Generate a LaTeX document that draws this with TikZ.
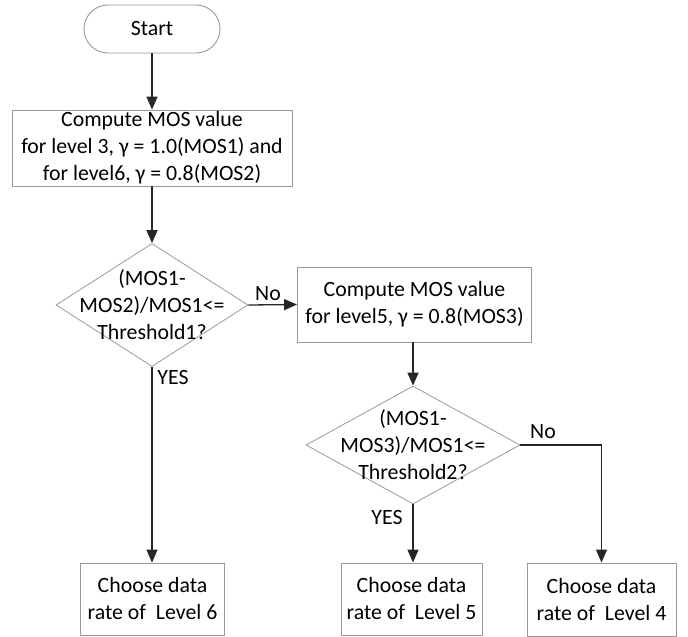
\documentclass[tikz,border=0pt]{standalone}
\usepackage{fontspec}
\setmainfont{Carlito}
\usetikzlibrary{shapes.geometric,shapes.misc,arrows.meta}
\begin{document}
\begin{tikzpicture}[x=1pt,y=-1pt,
  every node/.style={font=\fontsize{21.8}{27}\selectfont},
  boxshape/.style={draw=black!40, line width=0.9pt, rectangle, inner sep=0pt, align=center},
  termshape/.style={draw=black!40, line width=0.9pt, rounded rectangle, inner sep=0pt},
  diashape/.style={draw=black!40, line width=0.8pt, diamond, inner sep=0pt},
  conn/.style={draw=black!85, line width=1.3pt, -{Triangle[length=13pt,width=11pt]}},
  lbl/.style={inner sep=0pt}
]
\useasboundingbox (0,0) rectangle (688,637);
\node[termshape, minimum width=136pt, minimum height=48pt] (start) at (152,29) {Start};
\node[boxshape, minimum width=280pt, minimum height=76pt] (box1) at (152,148)
  {Compute MOS value\\for level 3, γ = 1.0(MOS1) and\\for level6, γ = 0.8(MOS2)};
\node[diashape, minimum width=192pt, minimum height=123pt] (d1) at (152,305) {};
\node[align=center, inner sep=0pt] (d1t) at (152,305) {(MOS1-\\MOS2)/MOS1<=\\Threshold1?};
\node[boxshape, minimum width=234pt, minimum height=75pt] (box2) at (414.5,304.5)
  {Compute MOS value\\for level5, γ = 0.8(MOS3)};
\node[diashape, minimum width=214pt, minimum height=118pt] (d2) at (413,445) {};
\node[align=center, inner sep=0pt] (d2t) at (413,445) {(MOS1-\\MOS3)/MOS1<=\\Threshold2?};
\node[boxshape, minimum width=144pt, minimum height=72pt] (box3) at (152.5,599)
  {Choose data\\rate of\ \ Level 6};
\node[boxshape, minimum width=141pt, minimum height=72pt] (box4) at (411.5,599)
  {Choose data\\rate of\ \ Level 5};
\node[boxshape, minimum width=149pt, minimum height=73pt] (box5) at (601.5,599.5)
  {Choose data\\rate of\ \ Level 4};
\node[lbl] (no1) at (268,294) {No};
\node[lbl] (yes1) at (173,377) {YES};
\node[lbl] (no2) at (543,432) {No};
\node[lbl] (yes2) at (387,517) {YES};
\draw[conn] (start.south) -- (box1.north);
\draw[conn] (box1.south) -- (d1.north);
\draw[conn] (d1.east) -- (box2.west);
\draw[conn] (d2.north |- box2.south) -- (d2.north);
\draw[conn] (d1.south) -- (d1.south |- box3.north);
\draw[conn] (d2.south) -- (d2.south |- box4.north);
\draw[conn] (d2.east) -| (box5.north);
\end{tikzpicture}
\end{document}
